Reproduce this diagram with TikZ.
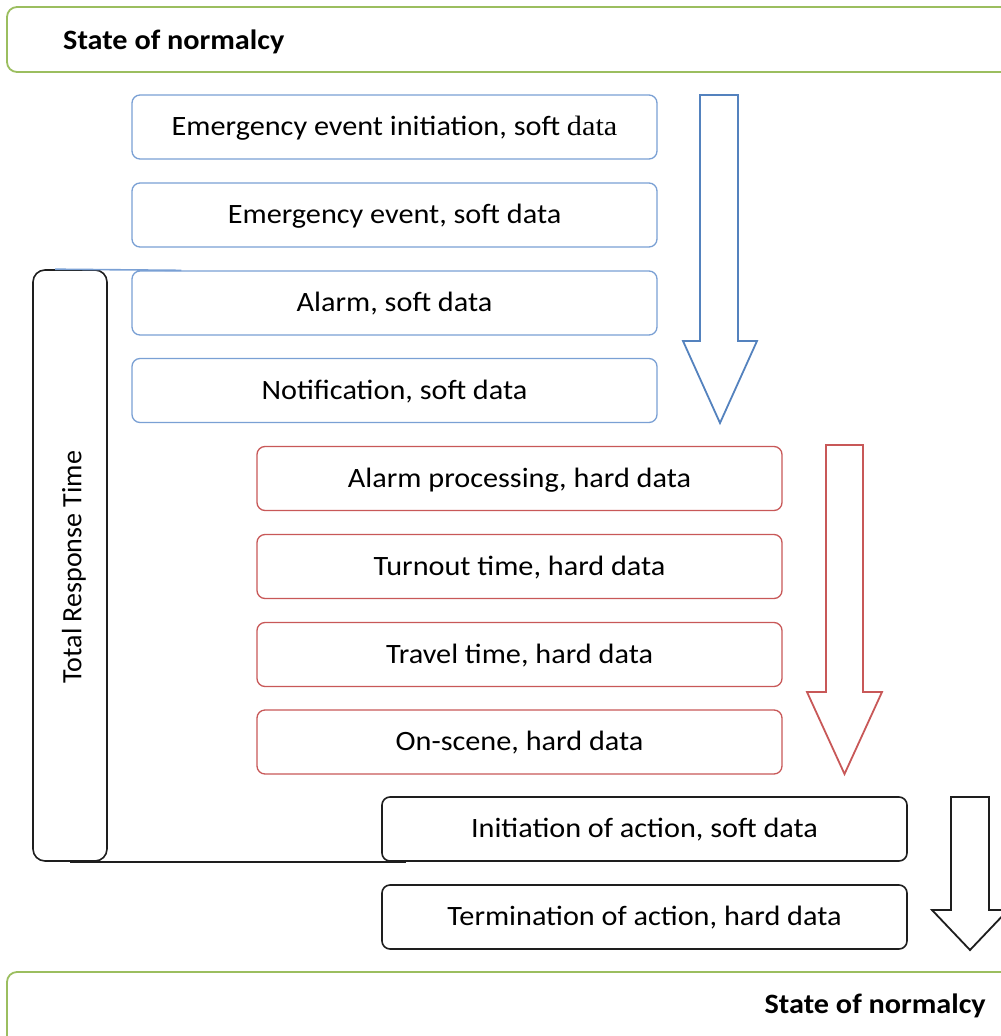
\documentclass[tikz,border=0pt]{standalone}
\usepackage{fontspec}
\setmainfont{Carlito}
\newfontfamily\boxfont[FakeStretch=1.08]{Carlito}
\newfontfamily\datafont[FakeStretch=1.08]{Liberation Serif}
\definecolor{softblue}{RGB}{122,160,212}
\definecolor{arrowblue}{RGB}{84,130,190}
\definecolor{hardred}{RGB}{200,88,88}
\definecolor{normgreen}{RGB}{155,190,95}
\definecolor{ink}{RGB}{30,30,30}
\begin{document}
\begin{tikzpicture}[x=1pt,y=-1pt,
  stagebox/.style={draw, rounded corners=8pt, line width=1.3pt, minimum width=525pt,
    minimum height=64pt, inner sep=0pt, fill=white, text depth=2pt,
    font=\boxfont\fontsize{28}{32}\selectfont},
  softbox/.style={stagebox, draw=softblue},
  hardbox/.style={stagebox, draw=hardred},
  actbox/.style={stagebox, draw=ink, line width=1.6pt},
  normbox/.style={draw=normgreen, line width=1.8pt, rounded corners=10pt},
  normtext/.style={font=\boxfont\bfseries\fontsize{28}{32}\selectfont, inner sep=0pt},
  bracketbox/.style={draw=ink, line width=1.6pt, rounded corners=12pt,
    minimum width=74pt, minimum height=591pt, inner sep=0pt},
  flow/.style={line width=1.8pt, line join=miter, fill=white}
]
\clip (0,0) rectangle (1001,1036);

% states of normalcy at the top and bottom
\draw[normbox] (1030,7) -- (7,7) -- (7,72) -- (1030,72);
\node[normtext, anchor=west] (normtop) at (63,42) {State of normalcy};
\draw[normbox] (1030,972) -- (7,972) -- (7,1060);
\node[normtext, anchor=east] (normbot) at (986,1006) {State of normalcy};

% total response time bracket
\node[bracketbox] (trt) at (70,565.5) {};
\node[rotate=90, font=\fontsize{28}{32}\selectfont, inner sep=0pt] (trtlabel) at (74,567) {Total Response Time};

% soft data stages
\node[softbox] (init) at (394.5,127) {Emergency event initiation, soft {\datafont data}};
\node[softbox] (event) at (394.5,215) {Emergency event, soft data};
\node[softbox] (alarm) at (394.5,303) {Alarm, soft data};
\node[softbox] (notif) at (394.5,390.5) {Notification, soft data};

% hard data stages
\node[hardbox] (proc) at (519.5,478.5) {Alarm processing, hard data};
\node[hardbox] (turn) at (519.5,566.5) {Turnout time, hard data};
\node[hardbox] (travel) at (519.5,654.5) {Travel time, hard data};
\node[hardbox] (scene) at (519.5,742) {On-scene, hard data};

% action stages
\node[actbox] (act) at (644.5,829) {Initiation of action, soft data};
\node[actbox] (term) at (644.5,917) {Termination of action, hard data};

% bracket ties
\draw[softblue, line width=1.6pt] ([xshift=23pt]trt.north west) -- ([xshift=50pt]alarm.north west);
\draw[ink, line width=1.6pt] (trt.south) -- ([xshift=25pt]act.south west);

% block arrows
\draw[flow, draw=arrowblue] (700,95) -- (738,95) -- (738,341) -- (757,341) -- (720,423)
  -- (683,341) -- (700,341) -- cycle;
\draw[flow, draw=hardred] (826,445) -- (863,445) -- (863,692) -- (882,692) -- (844.5,774)
  -- (807,692) -- (826,692) -- cycle;
\draw[flow, draw=ink] (951,797) -- (989,797) -- (989,910) -- (1008,910) -- (970,950)
  -- (932,910) -- (951,910) -- cycle;
\end{tikzpicture}
\end{document}
